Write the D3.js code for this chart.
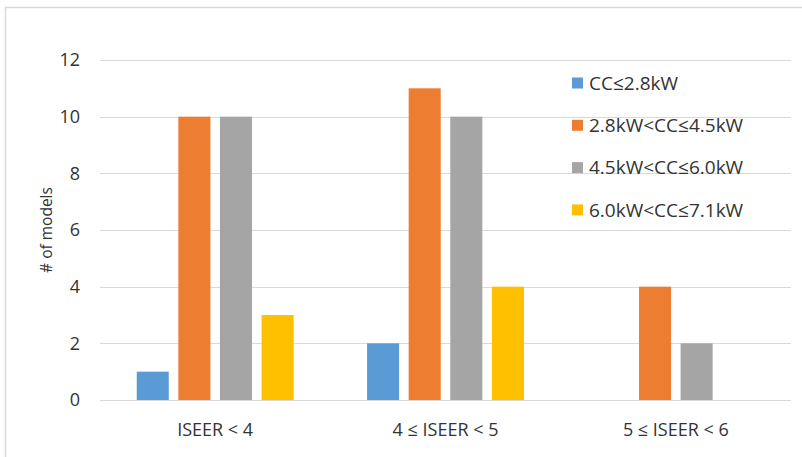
<!DOCTYPE html>
<html>
<head>
<meta charset="utf-8">
<script src="https://cdn.jsdelivr.net/npm/d3@7"></script>
<style>
  body { margin: 0; background: #fff; }
  text { font-family: "Open Sans", "Liberation Sans", sans-serif; fill: #333333; }
</style>
</head>
<body>
<svg id="chart" width="802" height="457"></svg>
<script>
const categories = ["ISEER < 4", "4 \u2264 ISEER < 5", "5 \u2264 ISEER < 6"]
const seriesNames = ["CC\u22642.8kW", "2.8kW<CC\u22644.5kW", "4.5kW<CC\u22646.0kW", "6.0kW<CC\u22647.1kW"]
const seriesColors = ["#5b9bd5", "#ed7d31", "#a5a5a5", "#ffc000"]
// values[series][category]
const values = [
  [1, 2, 0],
  [10, 11, 4],
  [10, 10, 2],
  [3, 4, 0]
]
const yTicks = [0, 2, 4, 6, 8, 10, 12]

const svg = d3.select("#chart")

// outer frame
svg.append("rect")
  .attr("x", 5.5).attr("y", 7.5)
  .attr("width", 810).attr("height", 470)
  .attr("fill", "none")
  .attr("stroke", "#d9d9d9")
  .attr("stroke-width", 1.5)

const plotLeft = 100, plotRight = 791, plotTop = 60, plotBottom = 400

const y = d3.scaleLinear().domain([0, 12]).range([plotBottom, plotTop])
const x0 = d3.scaleBand().domain(categories).range([plotLeft, plotRight])
  .paddingInner(0.319).paddingOuter(0.1595)
const x1 = d3.scaleBand().domain(d3.range(seriesNames.length)).range([0, x0.bandwidth()])
  .paddingInner(0.23).paddingOuter(0)

// gridlines
svg.append("g")
  .selectAll("line")
  .data(yTicks)
  .enter()
  .append("line")
    .attr("x1", plotLeft).attr("x2", plotRight)
    .attr("y1", d => Math.round(y(d)) + 0.5).attr("y2", d => Math.round(y(d)) + 0.5)
    .attr("stroke", "#d9d9d9")
    .attr("stroke-width", 1)

// y tick labels
svg.append("g")
  .selectAll("text")
  .data(yTicks)
  .enter()
  .append("text")
    .attr("x", 80)
    .attr("y", d => y(d))
    .attr("dy", "0.36em")
    .attr("text-anchor", "end")
    .style("font-size", "18px")
    .text(d => d)

// y axis title
svg.append("text")
  .attr("transform", `translate(52, ${(plotTop + plotBottom) / 2}) rotate(-90)`)
  .attr("text-anchor", "middle")
  .style("font-size", "15.5px")
  .text("# of models")

// bars
const groups = svg.append("g")
  .selectAll("g")
  .data(categories)
  .enter()
  .append("g")
    .attr("transform", d => `translate(${x0(d)}, 0)`)

groups.selectAll("rect")
  .data((c, ci) => values.map((s, si) => ({ si: si, v: s[ci] })))
  .enter()
  .append("rect")
    .attr("x", d => x1(d.si))
    .attr("width", x1.bandwidth())
    .attr("y", d => y(d.v))
    .attr("height", d => y(0) - y(d.v))
    .attr("fill", d => seriesColors[d.si])

// x labels
svg.append("g")
  .selectAll("text")
  .data(categories)
  .enter()
  .append("text")
    .attr("x", d => x0(d) + x0.bandwidth() / 2)
    .attr("y", 436)
    .attr("text-anchor", "middle")
    .style("font-size", "18px")
    .text(d => d)

// legend
const legend = svg.append("g")
  .selectAll("g")
  .data(seriesNames)
  .enter()
  .append("g")
    .attr("transform", (d, i) => `translate(572, ${83 + i * 42.3})`)

legend.append("rect")
  .attr("x", 0).attr("y", -5.5)
  .attr("width", 11).attr("height", 11)
  .attr("fill", (d, i) => seriesColors[i])

legend.append("text")
  .attr("x", 17)
  .attr("dy", "0.36em")
  .style("font-size", "19px")
  .text(d => d)
</script>
</body>
</html>
